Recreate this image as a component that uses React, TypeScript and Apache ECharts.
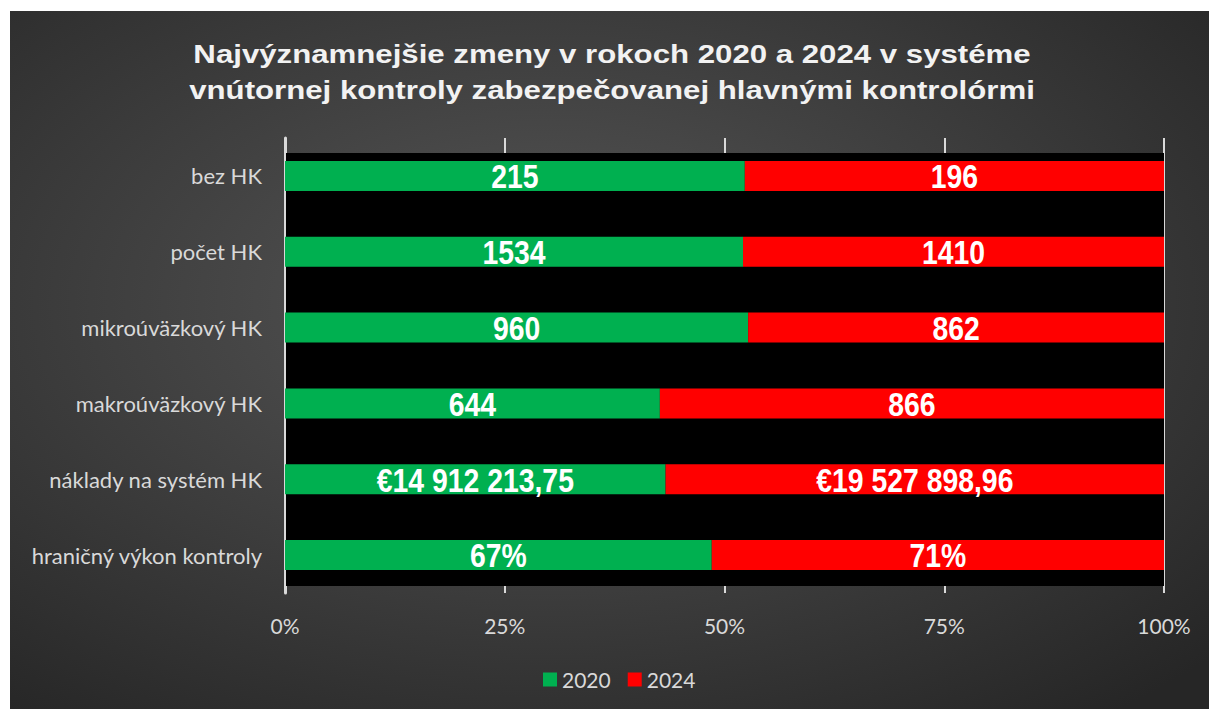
import React, { useEffect, useRef } from "react";
import * as echarts from "echarts";

const categories = [
  "bez HK",
  "počet HK",
  "mikroúväzkový HK",
  "makroúväzkový HK",
  "náklady na systém HK",
  "hraničný výkon kontroly",
];
const values2020 = [215, 1534, 960, 644, 14912213.75, 67];
const values2024 = [196, 1410, 862, 866, 19527898.96, 71];
const valuePrefix = ["", "", "", "", "€", ""];
const valueSuffix = ["", "", "", "", "", "%"];
const valueDecimals = [0, 0, 0, 0, 2, 0];
const groupThousands = [false, false, false, false, true, false];
const xTicks = [0, 25, 50, 75, 100];
const seriesNames = ["2020", "2024"];
const titleText =
  "Najvýznamnejšie zmeny v rokoch 2020 a 2024 v systéme\nvnútornej kontroly zabezpečovanej hlavnými kontrolórmi";

function formatValue(v: number, i: number): string {
  const fixed = v.toFixed(valueDecimals[i]);
  let [intPart, decPart] = fixed.split(".");
  if (groupThousands[i]) intPart = intPart.replace(/\B(?=(\d{3})+(?!\d))/g, " ");
  return valuePrefix[i] + intPart + (decPart ? "," + decPart : "") + valueSuffix[i];
}

const share2020 = values2020.map((v, i) => (v / (v + values2024[i])) * 100);
const share2024 = values2024.map((v, i) => (v / (values2020[i] + v)) * 100);

const axisFont = "Lato, 'Noto Sans', sans-serif";

export default function App() {
  const ref = useRef<HTMLDivElement>(null);
  useEffect(() => {
    if (!ref.current) return;
    const chart = echarts.init(ref.current, null, { renderer: "svg" });
    const mkBar = (name: string, data: number[], color: string) => ({
      name,
      type: "bar",
      stack: "total",
      barWidth: 30,
      data,
      itemStyle: { color },
      z: 3,
    });
    // labels drawn through a custom series so they can be horizontally condensed (narrow bold look)
    const mkLabels = (name: string, starts: number[], ends: number[], raw: number[]) => ({
      name,
      type: "custom",
      coordinateSystem: "cartesian2d",
      z: 4,
      silent: true,
      encode: { x: [0, 1], y: 2 },
      data: categories.map((_, i) => [starts[i], ends[i], i]),
      renderItem: (params: any, api: any) => {
        const i = params.dataIndex;
        const a = api.coord([api.value(0), api.value(2)]);
        const b = api.coord([api.value(1), api.value(2)]);
        return {
          type: "text",
          x: (a[0] + b[0]) / 2,
          y: a[1] + 1,
          scaleX: 0.86,
          style: {
            text: formatValue(raw[i], i),
            align: "center",
            verticalAlign: "middle",
            fill: "#ffffff",
            font: "bold 33px 'Liberation Sans', Arial, sans-serif",
          },
        };
      },
    });
    const ends2020 = share2020.slice();
    const ends2024 = share2020.map((s, i) => s + share2024[i]);
    chart.setOption({
      animation: false,
      backgroundColor: "#ffffff",
      graphic: [
        {
          type: "rect",
          z: -100,
          silent: true,
          shape: { x: 10, y: 11, width: 1199, height: 698 },
          style: {
            fill: new echarts.graphic.RadialGradient(0.45, 0.42, 0.75, [
              { offset: 0, color: "#575757" },
              { offset: 1, color: "#262626" },
            ]),
          },
        },
        {
          type: "rect",
          z: 1,
          silent: true,
          shape: { x: 286, y: 153, width: 878, height: 433 },
          style: { fill: "#000000" },
        },
        {
          type: "text",
          z: 5,
          x: 612,
          y: 72,
          scaleX: 1.2,
          style: {
            text: titleText,
            align: "center",
            verticalAlign: "middle",
            fill: "#f2f2f2",
            font: "bold 26px 'Liberation Sans', Arial, sans-serif",
            lineHeight: 36,
          },
        },
      ],
      legend: {
        left: 543,
        top: 669,
        padding: 0,
        itemWidth: 14,
        itemHeight: 14,
        itemGap: 17,
        icon: "rect",
        data: seriesNames,
        textStyle: { color: "#d9d9d9", fontFamily: axisFont, fontSize: 21 },
      },
      grid: { left: 285, right: 45, top: 138, bottom: 116, containLabel: false },
      xAxis: {
        type: "value",
        min: 0,
        max: 100,
        interval: 25,
        axisLine: { show: false },
        axisTick: { show: false },
        splitLine: { show: true, lineStyle: { color: "#d9d9d9", width: 2 } },
        axisLabel: {
          color: "#d9d9d9",
          fontFamily: axisFont,
          fontSize: 21,
          margin: 22,
          formatter: (v: number) => (xTicks.includes(v) ? v + "%" : ""),
        },
      },
      yAxis: {
        type: "category",
        inverse: true,
        data: categories,
        axisLine: { show: true, lineStyle: { color: "#d9d9d9", width: 3 } },
        axisTick: { show: false },
        axisLabel: { color: "#d9d9d9", fontFamily: axisFont, fontSize: 22, margin: 23 },
      },
      series: [
        mkBar(seriesNames[0], share2020, "#00B050"),
        mkBar(seriesNames[1], share2024, "#FF0000"),
        mkLabels("labels 2020", categories.map(() => 0), ends2020, values2020),
        mkLabels("labels 2024", ends2020, ends2024, values2024),
      ],
    });
    return () => chart.dispose();
  }, []);
  return (
    <div
      ref={ref}
      style={{ position: "fixed", left: 0, top: 0, width: 1209, height: 709 }}
    />
  );
}
